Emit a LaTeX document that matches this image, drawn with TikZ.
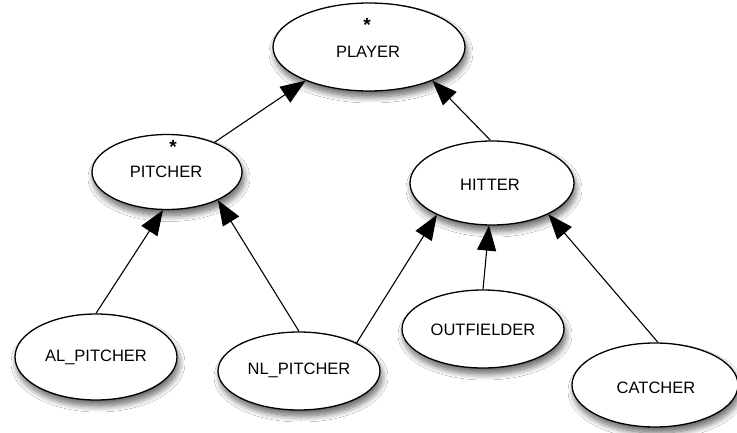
\documentclass[tikz,border=0pt]{standalone}
\usepackage{fontspec}
\setmainfont{Liberation Sans}
\usetikzlibrary{shapes.geometric,arrows.meta,shadows.blur}
\begin{document}
\begin{tikzpicture}[x=1pt,y=-1pt,
  cls/.style={ellipse,draw=black,line width=1.3pt,fill=white,inner sep=0pt,
    blur shadow={shadow xshift=2pt,shadow yshift=-6pt,shadow opacity=60,shadow blur steps=10,shadow blur radius=6pt}},
  lbl/.style={font=\fontsize{16.5}{19}\selectfont,inner sep=0pt},
  star/.style={font=\bfseries\fontsize{19}{20}\selectfont,inner sep=0pt},
  isa/.style={draw=black,line width=1.1pt,-{Triangle[length=25pt,width=19pt]}}]
\useasboundingbox (0,0) rectangle (737,433);
\fill[white] (0,0) rectangle (737,433);

% class ellipses
\node[cls,minimum width=192pt,minimum height=88pt] (player) at (369,47) {};
\node[cls,minimum width=150pt,minimum height=75pt] (pitcher) at (167,172) {};
\node[cls,minimum width=164pt,minimum height=84pt] (hitter) at (492,183) {};
\node[cls,minimum width=162pt,minimum height=86pt] (alp) at (96,357) {};
\node[cls,minimum width=162pt,minimum height=78pt] (nlp) at (299,371) {};
\node[cls,minimum width=162pt,minimum height=78pt] (outf) at (483,329) {};
\node[cls,minimum width=166pt,minimum height=84pt] (catcher) at (655,385) {};

% class names
\node[lbl] (playert) at (368,52) {PLAYER};
\node[star] (playerstar) at (367,25) {*};
\node[lbl] (pitchert) at (166,172) {PITCHER};
\node[star] (pitcherstar) at (173,147) {*};
\node[lbl] (hittert) at (490,185) {HITTER};
\node[lbl] (alpt) at (96,357) {AL\_PITCHER};
\node[lbl] (nlpt) at (299,370) {NL\_PITCHER};
\node[lbl] (outft) at (483,330) {OUTFIELDER};
\node[lbl] (catchert) at (656,388) {CATCHER};

% generalisation arrows
\draw[isa] (pitcher.32) -- (player.-152);
\draw[isa] (hitter.92) -- (player.-28);
\draw[isa] (alp.90) -- (pitcher.-96);
\draw[isa] (nlp.90) -- (pitcher.-29);
\draw[isa] (nlp.26) -- (hitter.-150);
\draw[isa] (outf.90) -- (hitter.-94);
\draw[isa] (catcher.86) -- (hitter.-29);
\end{tikzpicture}
\end{document}
